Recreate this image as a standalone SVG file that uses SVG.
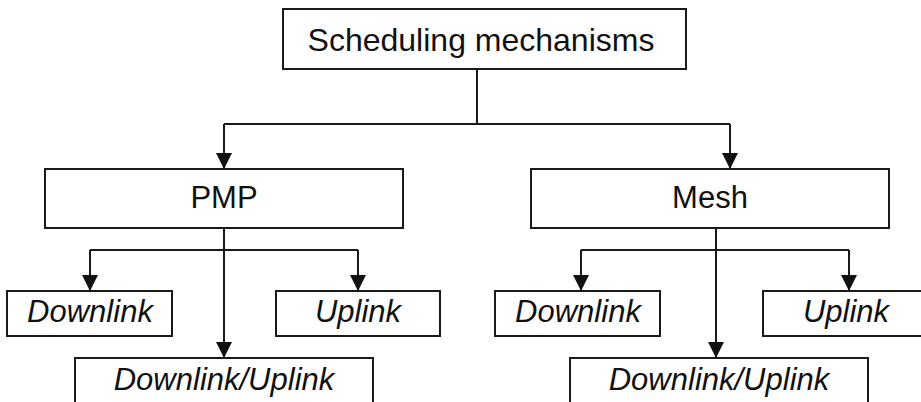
<svg xmlns="http://www.w3.org/2000/svg" width="921" height="402" viewBox="0 0 921 402">
<style>
.box{fill:#fff;stroke:#1a1a1a;stroke-width:2}
.t{font-family:"Liberation Sans",Arial,sans-serif;font-size:31px;fill:#111;text-anchor:middle}
.i{font-style:italic}
.c{fill:none;stroke:#1a1a1a;stroke-width:2}
.a{marker-end:url(#arr)}
</style>
<defs>
<marker id="arr" viewBox="0 0 16 16" refX="16" refY="8" markerWidth="16" markerHeight="16" orient="auto" markerUnits="userSpaceOnUse">
<path d="M0,0 L16,8 L0,16 z" fill="#111"/>
</marker>
</defs>
<rect width="921" height="402" fill="#fff"/>
<g id="connectors">
<path class="c" d="M477,69 V124 M224,124 H730"/>
<path class="c a" d="M224,124 V169"/>
<path class="c a" d="M730,124 V169"/>
<path class="c" d="M90,250 H358"/>
<path class="c a" d="M224,228 V358"/>
<path class="c a" d="M90,250 V291"/>
<path class="c a" d="M358,250 V291"/>
<path class="c" d="M581,250 H849"/>
<path class="c a" d="M716,228 V358"/>
<path class="c a" d="M581,250 V291"/>
<path class="c a" d="M849,250 V291"/>
</g>
<g id="root"><rect class="box" x="283" y="9" width="403" height="60"/><text class="t" x="481" y="51" style="font-size:32px">Scheduling mechanisms</text></g>
<g id="pmp"><rect class="box" x="45" y="169" width="358" height="59"/><text class="t" x="224" y="208">PMP</text></g>
<g id="mesh"><rect class="box" x="531" y="169" width="358" height="59"/><text class="t" x="710" y="208">Mesh</text></g>
<g id="pmp-downlink"><rect class="box" x="7" y="291" width="165" height="45"/><text class="t i" x="90" y="322">Downlink</text></g>
<g id="pmp-uplink"><rect class="box" x="276" y="291" width="164" height="45"/><text class="t i" x="358" y="322">Uplink</text></g>
<g id="pmp-downlink-uplink"><rect class="box" x="75" y="358" width="298" height="60"/><text class="t i" x="224" y="390">Downlink/Uplink</text></g>
<g id="mesh-downlink"><rect class="box" x="495" y="291" width="165" height="45"/><text class="t i" x="578" y="322">Downlink</text></g>
<g id="mesh-uplink"><rect class="box" x="763" y="291" width="172" height="45"/><text class="t i" x="846" y="322">Uplink</text></g>
<g id="mesh-downlink-uplink"><rect class="box" x="570" y="358" width="298" height="60"/><text class="t i" x="719" y="390">Downlink/Uplink</text></g>
</svg>
